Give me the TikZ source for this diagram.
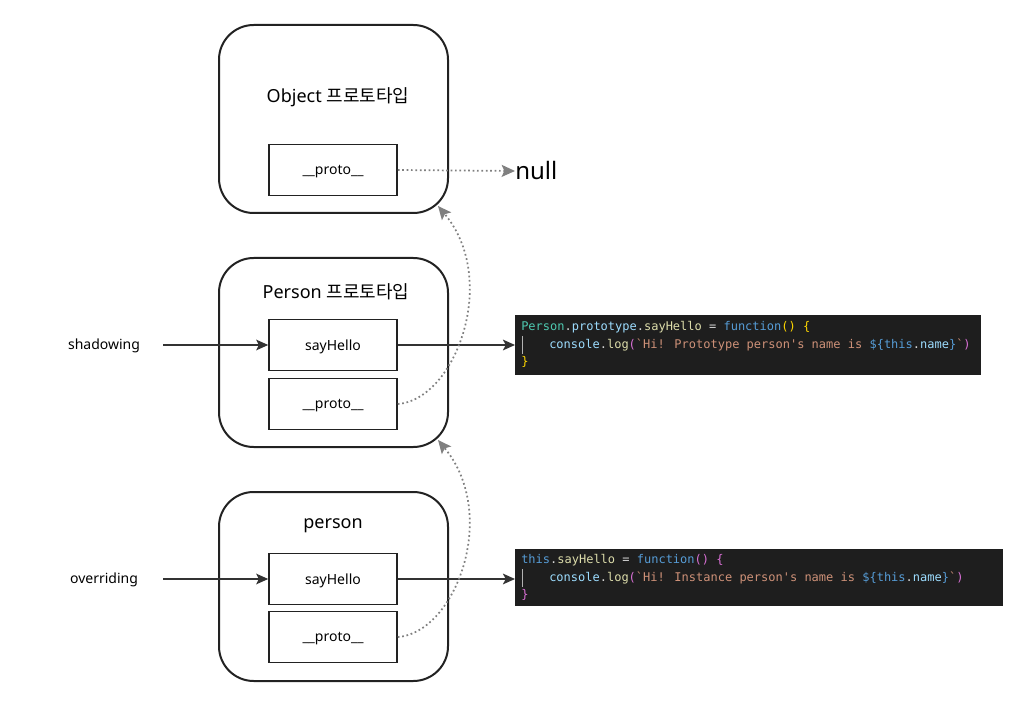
\documentclass[tikz,border=0pt]{standalone}
\usepackage{fontspec}
\setmainfont{Noto Sans}
\newfontfamily\kr{Noto Sans CJK KR}
\newfontfamily\cd{DejaVu Sans Mono}
\usetikzlibrary{arrows.meta}
\definecolor{codebg}{HTML}{1E1E1E}
\definecolor{cteal}{HTML}{4EC9B0}
\definecolor{clblue}{HTML}{9CDCFE}
\definecolor{cyel}{HTML}{DCDCAA}
\definecolor{cblue}{HTML}{569CD6}
\definecolor{cgold}{HTML}{FFD700}
\definecolor{cpurp}{HTML}{DA70D6}
\definecolor{cstr}{HTML}{CE9178}
\definecolor{cwhite}{HTML}{D4D4D4}
\definecolor{lineclr}{HTML}{222222}
\definecolor{arrclr}{HTML}{333333}
\definecolor{dotclr}{HTML}{808080}
\newcommand\bq{\symbol{96}}
\newcommand\cc[2]{\textcolor{#1}{#2}}
\tikzset{
  bigbox/.style={draw=lineclr, line width=1.5pt, rounded corners=26pt},
  fieldbox/.style={draw=lineclr, line width=1.2pt, minimum width=96pt, minimum height=38pt, inner sep=0pt, font=\fontsize{10.5}{12}\selectfont, text depth=0pt},
  titletxt/.style={font=\fontsize{13.5}{15}\selectfont, inner sep=0pt},
  lbl/.style={font=\fontsize{10.5}{12}\selectfont, inner sep=0pt},
  solidarr/.style={draw=arrclr, line width=1.2pt, -{Stealth[length=9pt,width=8pt,inset=2pt]}},
  dotarr/.style={draw=dotclr, line width=1.3pt, dotted, -{Stealth[length=10pt,width=9pt,inset=2pt,sep=0pt]}},
  codebox/.style={fill=codebg, draw=none},
  codeln/.style={anchor=west, inner sep=0pt, font=\cd\fontsize{9}{11}\selectfont, text=cwhite},
}
\begin{document}
\begin{tikzpicture}[x=0.75pt,y=-0.75pt]
\useasboundingbox (0,0) rectangle (1033,713);

% big boxes
\draw[bigbox] (219,25) rectangle (448,213);
\draw[bigbox] (219,258) rectangle (448,447);
\draw[bigbox] (219,492) rectangle (448,681);

\node[titletxt] (t1) at (338,97) {Object {\kr 프로토타입}};
\node[titletxt] (t2) at (336,292) {Person {\kr 프로토타입}};
\node[titletxt] (t3) at (333,526) {person};

% field boxes
\node[fieldbox] (op) at (333,170) {\_\_proto\_\_};
\node[fieldbox] (ps) at (333,345) {sayHello};
\node[fieldbox] (pp) at (333,404) {\_\_proto\_\_};
\node[fieldbox] (is) at (333,579) {sayHello};
\node[fieldbox] (ip) at (333,637) {\_\_proto\_\_};

% null
\node[font=\fontsize{18}{20}\selectfont, inner sep=0pt, anchor=west] (null) at (515,171) {null};

% labels
\node[lbl] (sh) at (104,346) {shadowing};
\node[lbl] (ov) at (104,580) {overriding};
\coordinate (shs) at (163,345);
\coordinate (ovs) at (163,579);

% code boxes
\fill[codebox] (515,315) rectangle (981,375);
\coordinate (c1) at (515,345);
\node[codeln] (c1a) at (521,327) {\cc{cteal}{Person}.\cc{clblue}{prototype}.\cc{cyel}{sayHello} = \cc{cblue}{function}\cc{cgold}{() \{}};
\node[codeln] (c1b) at (549,345) {\cc{clblue}{console}.\cc{cyel}{log}\cc{cpurp}{(}\cc{cstr}{\bq Hi! Prototype person's name is }\cc{cblue}{\$\{this}.\cc{clblue}{name}\cc{cblue}{\}}\cc{cstr}{\bq}\cc{cpurp}{)}};
\node[codeln] (c1c) at (521,362) {\cc{cgold}{\}}};
\draw[gray!60, line width=0.6pt] (522,336) -- (522,354);

\fill[codebox] (515,549) rectangle (1003,606);
\coordinate (c2) at (515,579);
\node[codeln] (c2a) at (521,560) {\cc{cblue}{this}.\cc{cyel}{sayHello} = \cc{cblue}{function}\cc{cpurp}{() \{}};
\node[codeln] (c2b) at (549,578) {\cc{clblue}{console}.\cc{cyel}{log}\cc{cpurp}{(}\cc{cstr}{\bq Hi! Instance person's name is }\cc{cblue}{\$\{this}.\cc{clblue}{name}\cc{cblue}{\}}\cc{cstr}{\bq}\cc{cpurp}{)}};
\node[codeln] (c2c) at (521,595) {\cc{cpurp}{\}}};
\draw[gray!60, line width=0.6pt] (522,569) -- (522,587);

% solid arrows
\draw[solidarr] (shs) -- (ps.west);
\draw[solidarr] (ovs) -- (is.west);
\draw[solidarr] (ps.east) -- (c1);
\draw[solidarr] (is.east) -- (c2);

% dotted arrows
\coordinate (e1) at (438,206);
\coordinate (e2) at (438,440);
\draw[dotarr] (op.east) -- (null.west);
\draw[dotarr] (pp.east) .. controls (455,400) and (500,280) .. (e1);
\draw[dotarr] (ip.east) .. controls (455,633) and (500,515) .. (e2);
\end{tikzpicture}
\end{document}
